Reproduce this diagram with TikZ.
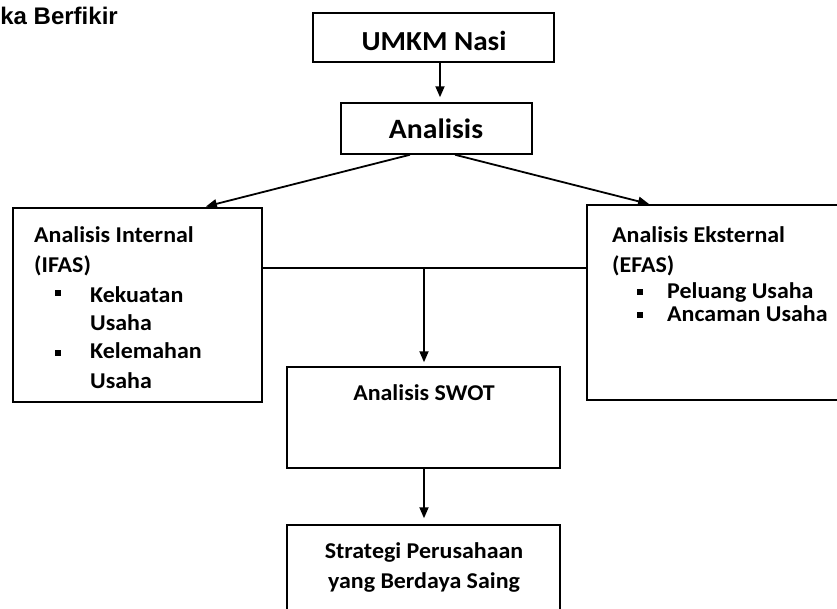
\documentclass[tikz,border=0pt]{standalone}
\usepackage{fontspec}
\setmainfont[FakeStretch=1.06]{Carlito}
\newfontfamily\arialfont{Liberation Sans}
\usetikzlibrary{arrows.meta,calc}
\begin{document}
\begin{tikzpicture}[x=1pt,y=-1pt,
  box/.style={draw=black,line width=1.5pt,rectangle,inner sep=0pt},
  arr/.style={line width=1.8pt,-{Triangle[length=11pt,width=9pt]}},
  thin/.style={line width=1.2pt},
  txt/.style={inner sep=0pt,font=\bfseries\fontsize{22.6}{27}\selectfont},
  bul/.style={fill=black,draw=none,minimum size=6pt,inner sep=0pt,rectangle}]
\useasboundingbox (0,0) rectangle (837,608);
\clip (0,0) rectangle (837,608);
% title
\node[inner sep=0pt,anchor=base east,font=\arialfont\bfseries\fontsize{24}{28}\selectfont] (title) at (118,24) {ka Berfikir};
% boxes
\node[box,minimum width=241pt,minimum height=49pt] (umkm) at (433.5,37.5) {};
\node[inner sep=0pt,anchor=base,font=\bfseries\fontsize{27.5}{32}\selectfont] (umkmt) at (434,50) {UMKM Nasi};
\node[box,minimum width=191pt,minimum height=51pt] (anal) at (436.5,128.5) {};
\node[inner sep=0pt,anchor=base,font=\bfseries\fontsize{28}{34}\selectfont] (analt) at (436,138) {Analisis};
\node[box,minimum width=249pt,minimum height=194pt] (intl) at (137.5,305) {};
\node[box,minimum width=258pt,minimum height=195pt] (extl) at (716,302.5) {};
\node[box,minimum width=273pt,minimum height=101pt] (swot) at (423.5,417.5) {};
\node[box,minimum width=273pt,minimum height=95pt] (strat) at (423.5,572.5) {};
% internal text
\node[txt,anchor=base west] (i1) at (34,242) {Analisis Internal};
\node[txt,anchor=base west] (i2) at (34,272) {(IFAS)};
\node[bul] (ib1) at (58,293) {};
\node[txt,anchor=base west] (i3) at (90,302) {Kekuatan};
\node[txt,anchor=base west] (i4) at (90,330) {Usaha};
\node[bul] (ib2) at (58,353) {};
\node[txt,anchor=base west] (i5) at (90,358) {Kelemahan};
\node[txt,anchor=base west] (i6) at (90,388) {Usaha};
% external text
\node[txt,anchor=base west] (e1) at (612,242) {Analisis Eksternal};
\node[txt,anchor=base west] (e2) at (612,272) {(EFAS)};
\node[bul] (eb1) at (640,292) {};
\node[txt,anchor=base west] (e3) at (667,298) {Peluang Usaha};
\node[bul] (eb2) at (640,315) {};
\node[txt,anchor=base west] (e4) at (667,321) {Ancaman Usaha};
% swot / strategy text
\node[txt,anchor=base] (s1) at (424,400) {Analisis SWOT};
\node[txt,anchor=base] (t1) at (424,558) {Strategi Perusahaan};
\node[txt,anchor=base] (t2) at (424,588) {yang Berdaya Saing};
% connectors
\coordinate (hj) at (424,268);
\draw[arr,shorten >=5pt] ([xshift=6.5pt]umkm.south) -- ([xshift=6.5pt]umkm.south |- anal.north);
\draw[arr,shorten >=3pt] ([xshift=-26.5pt]anal.south) -- ([xshift=65.5pt]intl.north);
\draw[arr,shorten >=1pt] ([xshift=18.5pt]anal.south) -- ([xshift=-66pt]extl.north);
\draw[thin] (intl.east |- hj) -- (extl.west |- hj);
\draw[arr,shorten >=4pt] (hj) -- (hj |- swot.north);
\draw[arr,shorten >=6pt] (swot.south -| hj) -- (hj |- strat.north);
\end{tikzpicture}
\end{document}
